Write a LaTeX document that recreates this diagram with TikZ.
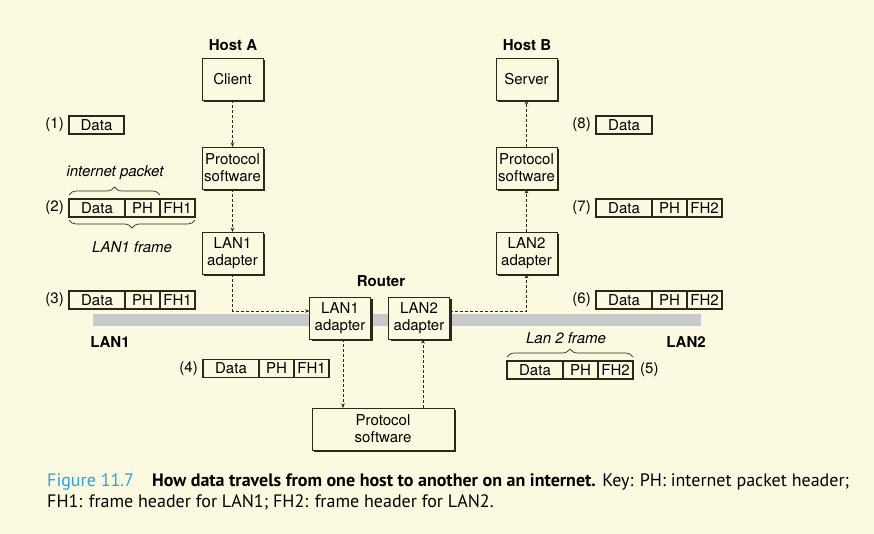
\documentclass[tikz,border=0pt]{standalone}
\usepackage{fontspec}
\setmainfont{TeX Gyre Heros}
\newfontfamily\capfont{PT Sans}
\usetikzlibrary{shadows,arrows.meta,decorations.pathreplacing}
\definecolor{bgcol}{HTML}{FCF9E1}
\definecolor{inkcol}{HTML}{2A2816}
\definecolor{lanbar}{HTML}{C8C9CB}
\definecolor{capblue}{HTML}{2AA2DA}
\tikzset{
  box/.style={draw=inkcol, line width=0.8pt, fill=bgcol, minimum width=61pt, minimum height=42pt,
    align=center, inner sep=2pt, outer sep=0pt, font=\fontsize{15}{17}\selectfont,
    general shadow={fill=inkcol, shadow xshift=2.4pt, shadow yshift=-2.4pt}},
  fld/.style={draw=inkcol, line width=1.4pt, fill=bgcol, minimum height=18pt, inner sep=0pt,
    outer sep=0pt, anchor=west, font=\fontsize{15}{16}\selectfont},
  num/.style={font=\fontsize{15}{16}\selectfont, inner sep=0pt},
  lbl/.style={font=\bfseries\fontsize{15}{16}\selectfont, inner sep=0pt},
  itl/.style={font=\itshape\fontsize{15}{16}\selectfont, inner sep=0pt},
  arr/.style={draw=inkcol, line width=0.6pt, dash pattern=on 3pt off 2pt, -{Stealth[length=4.5pt,width=3.5pt]}},
  brc/.style={draw=inkcol, line width=0.7pt, decorate, decoration={brace, amplitude=8pt}},
}
\newcommand{\pkt}[4]{%
  \node[fld, minimum width=56pt] (#1d) at (#2,#3) {Data};
  \node[fld, minimum width=35pt] (#1p) at (#1d.east) {PH};
  \node[fld, minimum width=35pt] (#1f) at (#1p.east) {#4};
}
\begin{document}
\begin{tikzpicture}[x=1pt,y=-1pt]
\fill[bgcol] (0,0) rectangle (874,534);
\useasboundingbox (0,0) rectangle (874,534);

% LAN bar
\fill[lanbar] (93,314) rectangle (701,326);

% Host A
\node[lbl] (hosta) at (233,45) {Host A};
\node[box] (client) at (232.5,79) {Client};
\node[box] (psa) at (232.5,168) {Protocol\\software};
\node[box] (lana) at (232.5,253) {LAN1\\adapter};

% Host B
\node[lbl] (hostb) at (527,45) {Host B};
\node[box] (server) at (526.5,79) {Server};
\node[box] (psb) at (526.5,168) {Protocol\\software};
\node[box] (lanb) at (526.5,253) {LAN2\\adapter};

% Router
\node[lbl] (router) at (381,281) {Router};
\node[box] (ra) at (340,318) {LAN1\\adapter};
\node[box] (rb) at (419,318) {LAN2\\adapter};
\node[box, minimum width=142pt] (rp) at (383,429) {Protocol\\software};

% arrows
\draw[arr] (client) -- (psa);
\draw[arr] (psa) -- (lana);
\draw[arr] (lana.south) |- ([yshift=7pt]ra.west);
\draw[arr] ([xshift=3pt]ra.south) -- ([xshift=3pt]ra.south |- rp.north);
\draw[arr] ([xshift=4pt]rb.south |- rp.north) -- ([xshift=4pt]rb.south);
\draw[arr] ([yshift=7pt]rb.east) -| (lanb.south);
\draw[arr] (lanb) -- (psb);
\draw[arr] (psb) -- (server);

% LAN labels
\node[lbl] (lan1l) at (110,342) {LAN1};
\node[lbl] (lan2l) at (686,342) {LAN2};

% (1)
\node[fld, minimum width=55pt] (p1d) at (69,125) {Data};
\node[num, anchor=east] (n1) at (64,125) {(1)};
% (2)
\pkt{p2}{69}{208}{FH1}
\node[num, anchor=east] (n2) at (64,208) {(2)};
\draw[brc] ([yshift=4pt]p2d.north west) -- ([yshift=4pt]p2p.north east);
\node[itl] (ipk) at (115,173) {internet packet};
\draw[brc] ([yshift=-3pt]p2f.south east) -- ([yshift=-3pt]p2d.south west);
\node[itl] (l1f) at (132,247) {LAN1 frame};
% (3)
\pkt{p3}{69}{300}{FH1}
\node[num, anchor=east] (n3) at (64,300) {(3)};
% (4)
\pkt{p4}{203}{368.5}{FH1}
\node[num, anchor=east] (n4) at (198,368.5) {(4)};
% (5)
\pkt{p5}{507}{370}{FH2}
\node[num, anchor=west] (n5) at (640,370) {(5)};
\draw[brc] ([yshift=4pt]p5d.north west) -- ([yshift=4pt]p5f.north east);
\node[itl] (l2f) at (566,338) {Lan 2 frame};
% (6)
\pkt{p6}{596}{300}{FH2}
\node[num, anchor=east] (n6) at (591,300) {(6)};
% (7)
\pkt{p7}{596}{208}{FH2}
\node[num, anchor=east] (n7) at (591,208) {(7)};
% (8)
\node[fld, minimum width=56pt] (p8d) at (596,125) {Data};
\node[num, anchor=east] (n8) at (591,125) {(8)};

% caption
\node[anchor=north west, inner sep=0pt, align=left, font=\capfont\fontsize{18}{21}\selectfont] (cap) at (47,473)
 {{\color{capblue}Figure 11.7}\quad\textbf{How data travels from one host to another on an internet.} Key: PH: internet packet header;\\
 FH1: frame header for LAN1; FH2: frame header for LAN2.};
\end{tikzpicture}
\end{document}
